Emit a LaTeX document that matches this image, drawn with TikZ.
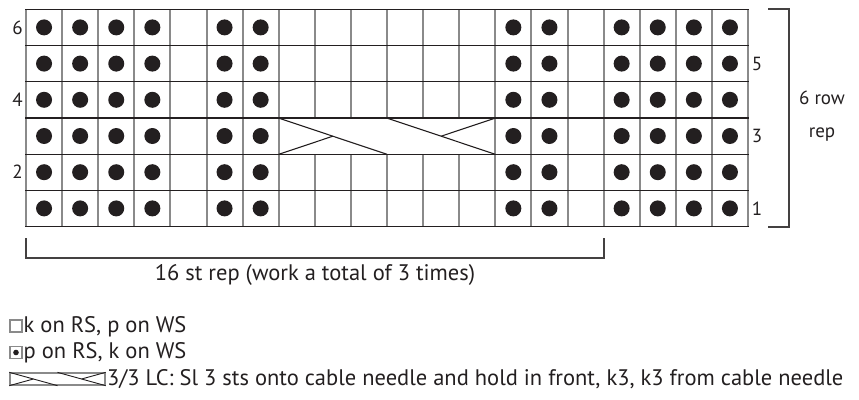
\documentclass[tikz,border=0pt]{standalone}
\usepackage{fontspec}
\setmainfont{PT Sans}
\usetikzlibrary{positioning, calc}
\definecolor{inkgray}{HTML}{8A8A8A}
\definecolor{ink}{HTML}{231F20}
\tikzset{
    colline/.style={draw=inkgray, line width=2pt},
    rowline/.style={draw=ink, line width=1.2pt},
    cableline/.style={draw=ink, line width=1.1pt},
    purl/.style={fill=ink},
    bracket/.style={draw=ink!85, line width=1.3pt},
    rowlabel/.style={font=\fontsize{19}{19}\selectfont, text=ink, inner sep=0pt},
    legendtext/.style={font=\fontsize{22.5}{22.5}\selectfont, text=ink, inner sep=0pt, anchor=base west},
    keybox/.style={draw=inkgray, line width=1.3pt, fill=white, minimum width=12pt, minimum height=12pt, inner sep=0pt}
}
\begin{document}
\begin{tikzpicture}[x=1pt, y=-1pt]
    \useasboundingbox (0,0) rectangle (859,399);
    % chart columns (no inner lines inside the cable cell)
    \foreach \c in {0,...,20} {
        \ifnum\c>7 \ifnum\c<13
            \draw [colline] ({26+\c*36.1},9.3) -- ({26+\c*36.1},118.1);
            \draw [colline] ({26+\c*36.1},154.3) -- ({26+\c*36.1},226.5);
        \else
            \draw [colline] ({26+\c*36.1},9.3) -- ({26+\c*36.1},226.5);
        \fi \else
            \draw [colline] ({26+\c*36.1},9.3) -- ({26+\c*36.1},226.5);
        \fi
    }
    \foreach \r in {0,...,6}
        \draw [rowline] (25,{9.3+\r*36.2}) -- (749,{9.3+\r*36.2});
    % purl dots
    \foreach \c in {1,2,3,4,6,7,14,15,17,18,19,20}
        \foreach \r in {1,...,6}
            \fill [purl] ({26+(\c-0.5)*36.1},{9.3+(\r-0.5)*36.2}) circle (8);
    % 3/3 LC cable
    \coordinate (lcA) at (278.7,118.1);
    \coordinate (lcB) at (387.0,154.3);
    \coordinate (lcC) at (387.0,118.1);
    \coordinate (lcD) at (495.3,154.3);
    \draw [cableline] (lcA) -- (lcB);
    \draw [cableline] (lcC) -- (lcD);
    \draw [cableline] (278.7,154.3) -- ($(lcA)!0.5!(lcB)$);
    \draw [cableline] (495.3,118.1) -- ($(lcC)!0.5!(lcD)$);
    % row numbers
    \node (row6) [rowlabel] at (17.5,27.4) {6};
    \node (row4) [rowlabel] at (17.5,99.8) {4};
    \node (row2) [rowlabel] at (17.5,172.2) {2};
    \node (row5) [rowlabel] at (757,63.6) {5};
    \node (row3) [rowlabel] at (757,136.2) {3};
    \node (row1) [rowlabel] at (757,208.4) {1};
    % repeat brackets
    \draw [bracket] (768,9) -- (789,9) -- (789,227) -- (768,227);
    \node (rowrep) [rowlabel, align=center, font=\fontsize{19}{33}\selectfont] at (822,116) {6 row\\rep};
    \draw [bracket] (26,238) -- (26,258) -- (604,258) -- (604,238);
    \node (strep) [legendtext, anchor=base] at (315,280) {16 st rep (work a total of 3 times)};
    % key
    \node (keyknit) [keybox] at (16,326) {};
    \node (knittext) [legendtext] at (23.5,332) {k on RS, p on WS};
    \node (keypurl) [keybox] at (16,352.5) {};
    \fill [purl] (keypurl.center) circle (2.8);
    \node (purltext) [legendtext] at (23.5,358.5) {p on RS, k on WS};
    \node (keycable) [keybox, minimum width=95pt] at (57.5,379) {};
    \draw [cableline, line width=0.9pt] (keycable.north west) -- (keycable.south);
    \draw [cableline, line width=0.9pt] (keycable.north) -- (keycable.south east);
    \draw [cableline, line width=0.9pt] (keycable.south west) -- ($(keycable.north west)!0.5!(keycable.south)$);
    \draw [cableline, line width=0.9pt] (keycable.north east) -- ($(keycable.north)!0.5!(keycable.south east)$);
    \node (cabletext) [legendtext] at (107,385) {3/3 LC: Sl 3 sts onto cable needle and hold in front, k3, k3 from cable needle};
\end{tikzpicture}
\end{document}
